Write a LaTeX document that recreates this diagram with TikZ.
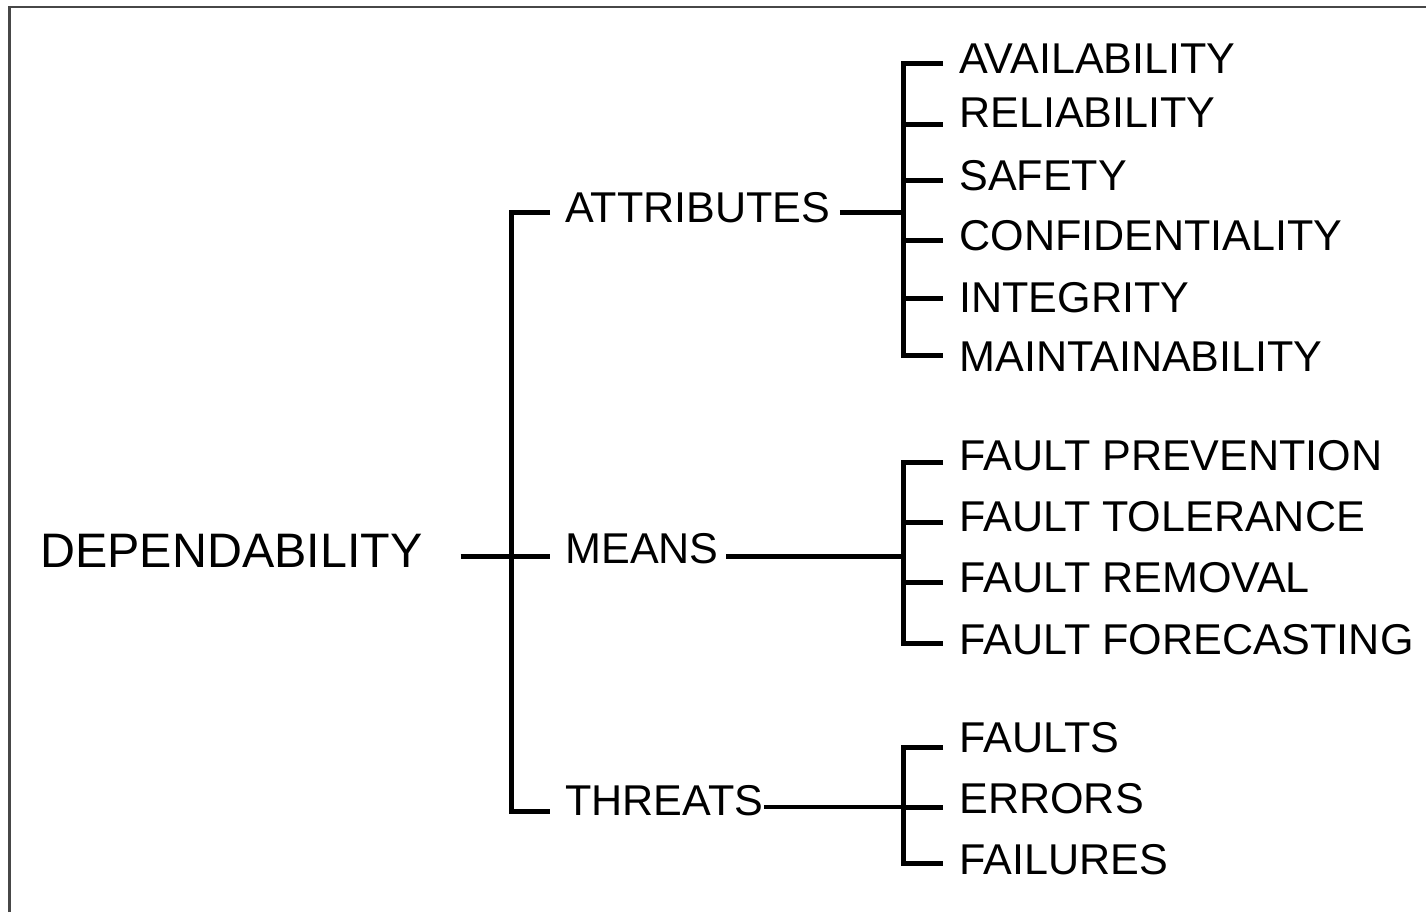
\documentclass[tikz,border=0pt]{standalone}
\usepackage{fontspec}
\setmainfont{Liberation Sans}
\begin{document}
\begin{tikzpicture}[x=0.5pt,y=-0.5pt,
  lbl/.style={anchor=west,inner sep=0pt,font=\fontsize{21.55pt}{25pt}\selectfont},
  biglbl/.style={anchor=west,inner sep=0pt,font=\fontsize{24.2pt}{28pt}\selectfont},
  br/.style={line width=2.5pt,line join=miter},
  thin/.style={line width=1.8pt}]
\useasboundingbox (0,0) rectangle (1426,912);
\draw[line width=1.3pt,black!72] (9.5,912) -- (9.5,7) -- (1426,7);

% text nodes
\node[biglbl] (dep) at (40,551) {DEPENDABILITY};
\node[lbl] (att) at (565,208) {ATTRIBUTES};
\node[lbl] (mea) at (565,549) {MEANS};
\node[lbl] (thr) at (565,801) {THREATS};

\node[lbl] (a1) at (959,59) {AVAILABILITY};
\node[lbl] (a2) at (959,113) {RELIABILITY};
\node[lbl] (a3) at (959,176) {SAFETY};
\node[lbl] (a4) at (959,236) {CONFIDENTIALITY};
\node[lbl] (a5) at (959,298) {INTEGRITY};
\node[lbl] (a6) at (959,357) {MAINTAINABILITY};

\node[lbl] (m1) at (959,456) {FAULT PREVENTION};
\node[lbl] (m2) at (959,517) {FAULT TOLERANCE};
\node[lbl] (m3) at (959,578) {FAULT REMOVAL};
\node[lbl] (m4) at (959,640) {FAULT FORECASTING};

\node[lbl] (t1) at (959,738) {FAULTS};
\node[lbl] (t2) at (959,799) {ERRORS};
\node[lbl] (t3) at (959,860) {FAILURES};

% junction coordinates
\coordinate (j0) at (511,556);
\coordinate (ja) at (903,212);
\coordinate (jm) at (903,556);
\coordinate (jt) at (903,807);
% arm ends, level 1
\coordinate (e0a) at (550,212);
\coordinate (e0m) at (550,556);
\coordinate (e0t) at (550,811);
% arm ends, level 2
\coordinate (ea1) at (943,63);
\coordinate (ea2) at (943,124);
\coordinate (ea3) at (943,180);
\coordinate (ea4) at (943,240);
\coordinate (ea5) at (943,298);
\coordinate (ea6) at (943,355);
\coordinate (em1) at (943,462);
\coordinate (em2) at (943,522);
\coordinate (em3) at (943,582);
\coordinate (em4) at (943,643);
\coordinate (et1) at (943,747);
\coordinate (et2) at (943,807);
\coordinate (et3) at (943,863);

% level 1 bracket
\draw[br] (e0a) -- (e0a -| j0) -- (e0t -| j0) -- (e0t);
\draw[br,shorten <=19pt] (dep.east |- e0m) -- (e0m);
% connectors from level-1 labels
\draw[br,shorten <=4.5pt] (att.east |- ja) -- (ja);
\draw[br,shorten <=3.5pt] (mea.east |- jm) -- (jm);
\draw[thin] (thr.east |- jt) -- (jt);

% attributes bracket
\draw[br] (ea1) -- (ea1 -| ja) -- (ea6 -| ja) -- (ea6);
\foreach \e in {ea2,ea3,ea4,ea5} \draw[br] (\e -| ja) -- (\e);
% means bracket
\draw[br] (em1) -- (em1 -| jm) -- (em4 -| jm) -- (em4);
\foreach \e in {em2,em3} \draw[br] (\e -| jm) -- (\e);
% threats bracket
\draw[br] (et1) -- (et1 -| jt) -- (et3 -| jt) -- (et3);
\draw[br] (et2 -| jt) -- (et2);
\end{tikzpicture}
\end{document}
